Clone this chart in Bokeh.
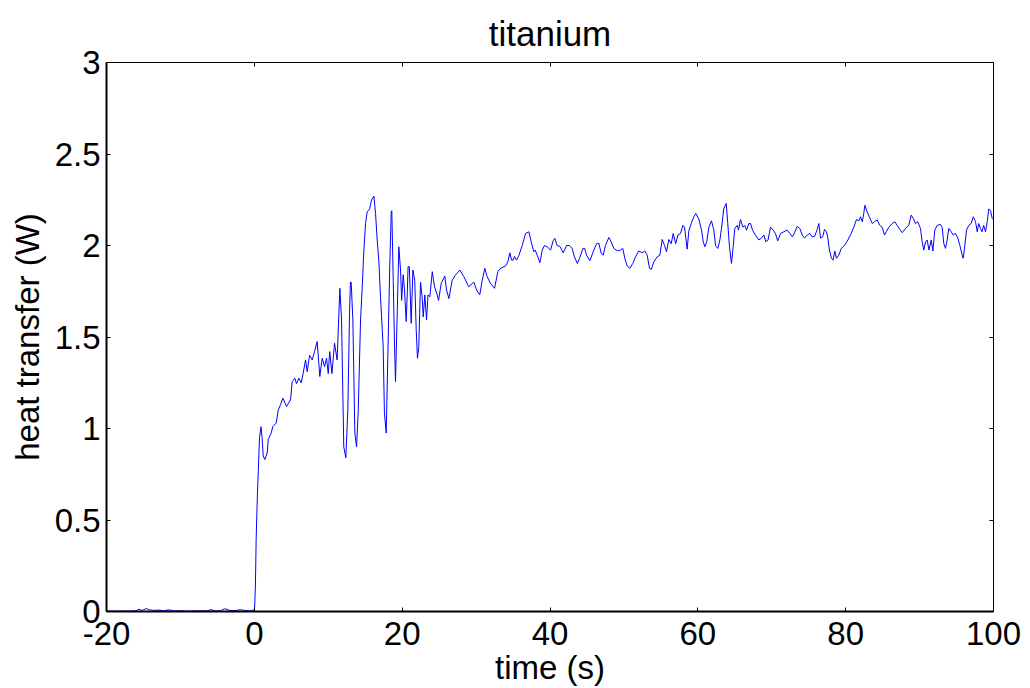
from bokeh.plotting import figure
from bokeh.models import LinearAxis, FixedTicker, Range1d, Title, CustomJSTickFormatter
from bokeh.embed import file_html
from bokeh.resources import INLINE

# ---- data ----
time_s = [
    -20, -19, -18, -17, -16, -15.6, -15.2, -14.6, -14.2, -13.6, -12.9, -12.3, -11.6, -10.9, -10,
    -9, -8, -7, -6.4, -5.9, -5.2, -4.6, -4.0, -3.3, -2.5, -1.9, -1.2, -0.5, -0.1,
    0.0, 0.05, 0.15, 0.25, 0.4, 0.55, 0.7, 0.9, 1.05, 1.2, 1.42, 1.74, 1.88, 2.28, 2.5, 2.96,
    3.23, 3.54, 3.86, 4.36, 4.9, 5.12, 5.48, 5.7, 6.02, 6.34, 6.6, 6.93, 7.15, 7.47, 7.83,
    8.14, 8.5, 8.86, 9.18, 9.5, 9.77, 10.0, 10.2, 10.5, 10.85, 11.2, 11.57, 11.8, 12.1, 12.38,
    12.65, 12.88, 13.0, 13.1, 13.33, 13.6, 13.83, 14.05, 14.37, 14.6, 14.8, 15.04, 15.27, 15.6,
    15.85, 16.17, 16.4, 16.62, 16.84, 17.07, 17.43, 17.6, 17.84, 18.07, 18.3, 18.52, 18.6, 18.79,
    18.97, 19.1, 19.33, 19.55, 19.78, 19.93, 20.14, 20.3, 20.55, 20.7, 20.8, 20.97, 21.22, 21.45,
    21.7, 21.9, 22.07, 22.25, 22.48, 22.7, 22.85, 23.07, 23.3, 23.5, 23.75, 24.07, 24.38, 24.74,
    24.92, 25.28, 25.77, 26.0, 26.32, 26.77, 27.2, 27.8, 28.34, 29.0, 29.7, 30.06, 30.5, 30.83,
    31.18, 31.5, 31.95, 32.5, 32.94, 33.3, 33.98, 34.3, 34.57, 34.8, 35.0, 35.2, 35.47, 35.8,
    36.24, 36.7, 37.14, 37.46, 37.8, 38.0, 38.27, 38.63, 38.95, 39.26, 39.6, 40.07, 40.43, 40.65,
    40.97, 41.33, 41.79, 42.24, 42.6, 43.0, 43.3, 43.7, 44.0, 44.45, 44.7, 44.94, 45.4, 45.84,
    46.3, 46.6, 46.93, 47.2, 47.5, 47.96, 48.28, 48.64, 49.1, 49.54, 49.85, 50.12, 50.44, 50.8,
    51.2, 51.57, 52.0, 52.48, 52.8, 53.15, 53.46, 53.7, 54.05, 54.5, 54.86, 55.18, 55.5, 55.76,
    56.08, 56.4, 56.67, 57.0, 57.3, 57.66, 57.97, 58.2, 58.56, 58.78, 59.1, 59.46, 59.73, 60.13,
    60.5, 60.73, 60.95, 61.2, 61.5, 61.85, 62.17, 62.4, 62.7, 62.98, 63.2, 63.5, 63.84, 64.05,
    64.28, 64.55, 64.78, 65.0, 65.33, 65.5, 65.77, 66.1, 66.35, 66.59, 66.9, 67.13, 67.4, 67.8,
    68.25, 68.6, 68.93, 69.2, 69.5, 69.83, 70.2, 70.5, 70.8, 71.2, 71.63, 72.1, 72.45, 72.77,
    73.05, 73.44, 73.8, 74.12, 74.43, 74.8, 75.15, 75.45, 75.8, 76.15, 76.37, 76.6, 76.9, 77.14,
    77.4, 77.6, 77.8, 78.08, 78.3, 78.53, 78.75, 79.07, 79.4, 79.84, 80.3, 80.75, 81.1, 81.46,
    81.8, 82.0, 82.25, 82.45, 82.6, 82.9, 83.2, 83.6, 83.9, 84.27, 84.62, 84.94, 85.25, 85.5,
    85.84, 86.29, 86.65, 86.97, 87.33, 87.65, 88.1, 88.54, 88.87, 89.15, 89.45, 89.75, 90.12,
    90.35, 90.57, 90.8, 91.03, 91.27, 91.57, 91.8, 92.06, 92.38, 92.83, 93.05, 93.28, 93.5,
    93.73, 93.95, 94.28, 94.55, 94.86, 95.18, 95.45, 95.77, 95.9, 96.1, 96.35, 96.66, 96.97,
    97.26, 97.57, 97.8, 98.0, 98.24, 98.45, 98.67, 98.92, 99.15, 99.37, 99.6, 99.83, 100.0,
]
heat_w = [
    0.003, 0.002, 0.003, 0.002, 0.004, 0.012, 0.006, 0.016, 0.009, 0.006, 0.008, 0.004, 0.009, 0.004, 0.004,
    0.002, 0.003, 0.004, 0.003, 0.010, 0.003, 0.004, 0.015, 0.006, 0.005, 0.010, 0.005, 0.004, 0.008,
    0.01, 0.03, 0.15, 0.40, 0.62, 0.78, 0.95, 1.01, 0.95, 0.85, 0.83, 0.866, 0.94, 0.975, 1.01, 1.03,
    1.10, 1.13, 1.166, 1.12, 1.157, 1.256, 1.275, 1.245, 1.275, 1.25, 1.30, 1.375, 1.31, 1.40, 1.375,
    1.42, 1.475, 1.284, 1.384, 1.338, 1.384, 1.30, 1.42, 1.30, 1.466, 1.375, 1.766, 1.593, 0.90, 0.84,
    1.10, 1.63, 1.80, 1.80, 1.593, 0.975, 0.90, 1.085, 1.593, 1.775, 1.957, 2.12, 2.184, 2.20,
    2.248, 2.27, 2.175, 2.03, 1.92, 1.72, 1.447, 1.084, 0.975, 1.41, 1.85, 2.184, 2.19, 1.81,
    1.447, 1.256, 1.63, 1.993, 1.866, 1.70, 1.84, 1.766, 1.584, 1.75, 1.884, 1.884, 1.575, 1.866,
    1.81, 1.54, 1.384, 1.447, 1.80, 1.72, 1.61, 1.73, 1.593, 1.73, 1.72, 1.857, 1.775, 1.73,
    1.70, 1.793, 1.833, 1.757, 1.71, 1.81, 1.838, 1.866, 1.83, 1.775, 1.80, 1.757, 1.73, 1.81,
    1.875, 1.83, 1.793, 1.766, 1.857, 1.875, 1.888, 1.911, 1.96, 1.92, 1.92, 1.94, 1.92, 1.947,
    2.0, 2.066, 2.075, 2.02, 1.966, 1.975, 1.947, 1.906, 1.975, 2.0, 1.993, 1.975, 2.026, 2.039,
    2.0, 1.995, 1.96, 2.0, 2.0, 1.984, 1.938, 1.902, 1.93, 1.984, 1.984, 1.947, 1.917, 1.966,
    2.01, 2.013, 1.957, 1.947, 2.0, 2.044, 2.02, 1.984, 1.971, 1.975, 1.984, 1.93, 1.888, 1.875,
    1.902, 1.938, 1.97, 1.96, 1.97, 1.947, 1.875, 1.87, 1.911, 1.938, 1.947, 2.033, 2.0, 1.966,
    2.033, 2.01, 2.066, 2.01, 2.057, 2.066, 2.11, 2.1, 1.98, 2.08, 2.12, 2.157, 2.175, 2.145,
    2.084, 2.02, 1.993, 2.02, 2.1, 2.135, 2.084, 2.0, 1.984, 2.03, 2.093, 2.20, 2.23, 2.12,
    1.993, 1.902, 1.993, 2.093, 2.11, 2.084, 2.142, 2.1, 2.11, 2.084, 2.12, 2.12, 2.084, 2.057,
    2.03, 2.04, 2.057, 2.02, 2.03, 2.1, 2.084, 2.066, 2.025, 2.066, 2.075, 2.084, 2.066, 2.048,
    2.066, 2.105, 2.093, 2.057, 2.04, 2.057, 2.066, 2.048, 2.05, 2.088, 2.12, 2.04, 2.048, 2.088,
    2.075, 2.04, 1.975, 1.93, 1.92, 1.97, 1.93, 1.947, 1.984, 2.0, 2.03, 2.066, 2.1, 2.142,
    2.135, 2.157, 2.13, 2.175, 2.22, 2.184, 2.157, 2.12, 2.13, 2.14, 2.11, 2.1, 2.057, 2.075,
    2.1, 2.12, 2.13, 2.11, 2.088, 2.07, 2.093, 2.11, 2.166, 2.148, 2.12, 2.13, 2.093,
    2.02, 1.975, 2.02, 2.03, 1.975, 2.03, 1.97, 2.084, 2.11, 2.115, 2.1, 2.01, 1.984,
    2.03, 2.093, 2.075, 2.057, 2.066, 2.04, 2.0, 1.947, 1.93, 1.993, 2.084, 2.11, 2.12,
    2.157, 2.13, 2.075, 2.12, 2.093, 2.075, 2.11, 2.075, 2.13, 2.2, 2.19, 2.148, 2.14,
]

x_ticks = [-20, 0, 20, 40, 60, 80, 100]
x_tick_labels = ["-20", "0", "20", "40", "60", "80", "100"]
y_ticks = [0, 0.5, 1, 1.5, 2, 2.5, 3]
y_tick_labels = ["0", "0.5", "1", "1.5", "2", "2.5", "3"]
title_text = "titanium"
x_label = "time (s)"
y_label = "heat transfer (W)"

FONT = "Liberation Sans"
FS = "33px"

p = figure(width=1030, height=688, output_backend="svg", toolbar_location=None,
           x_range=Range1d(-20, 100), y_range=Range1d(0, 3),
           min_border_left=106, min_border_right=37, min_border_top=62, min_border_bottom=76)
p.title = Title(text=title_text, align="center", text_font=FONT, text_font_size="35px",
                text_font_style="normal", text_color="black", standoff=20)
p.background_fill_color = "white"
p.border_fill_color = "white"
p.outline_line_color = None
p.xgrid.visible = False
p.ygrid.visible = False

p.line(time_s, heat_w, line_color="#0000ff", line_width=1)

blank = CustomJSTickFormatter(code="return ''")

def style(ax, ticks, labels=True, lw=2):
    ax.ticker = FixedTicker(ticks=ticks)
    ax.minor_tick_line_color = None
    ax.major_tick_in = 4
    ax.major_tick_out = 0
    ax.axis_line_color = "black"
    ax.axis_line_width = lw
    ax.major_tick_line_color = "black"
    ax.major_label_text_font = FONT
    ax.major_label_text_font_size = FS
    ax.major_label_text_color = "black"
    ax.axis_label_text_font = FONT
    ax.axis_label_text_font_size = FS
    ax.axis_label_text_font_style = "normal"
    ax.axis_label_text_color = "black"
    if not labels:
        ax.formatter = blank
        ax.major_label_standoff = 0

xa = p.xaxis[0]
style(xa, x_ticks)
xa.major_label_overrides = {t: s for t, s in zip(x_ticks, x_tick_labels)}
xa.axis_label = x_label
xa.major_label_standoff = 10
xa.axis_label_standoff = 1

ya = p.yaxis[0]
style(ya, y_ticks)
ya.major_label_overrides = {t: s for t, s in zip(y_ticks, y_tick_labels)}
ya.axis_label = y_label
ya.major_label_standoff = 6
ya.axis_label_standoff = 6

top = LinearAxis()
style(top, x_ticks, labels=False, lw=1)
p.add_layout(top, "above")

right = LinearAxis()
style(right, y_ticks, labels=False, lw=1)
p.add_layout(right, "right")

open("out.html", "w").write(file_html(p, INLINE))
